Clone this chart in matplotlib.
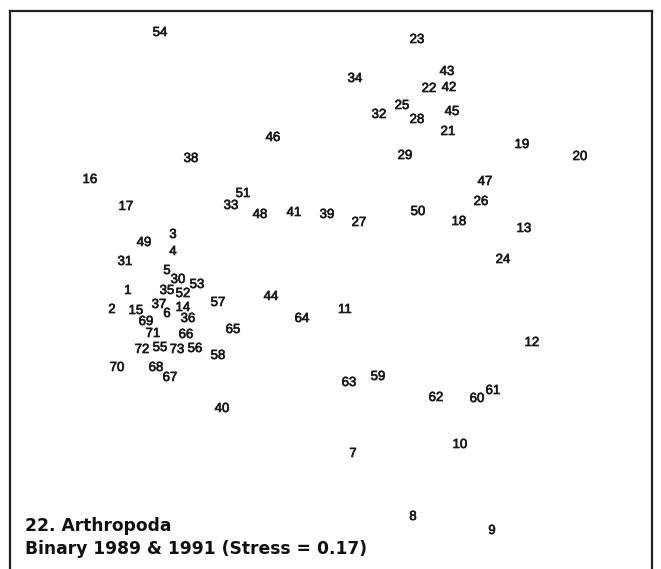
import matplotlib.pyplot as plt
import matplotlib.patheffects as pe

# site labels and their positions on the MDS plane
labels = ['54', '23', '34', '43', '22', '42', '25', '32', '28', '45', '21', '46',
          '19', '20', '29', '38', '16', '47', '26', '51', '33', '48', '41', '39',
          '27', '50', '18', '13', '17', '3', '49', '4', '31', '24', '5', '30',
          '53', '35', '52', '1', '44', '57', '37', '14', '2', '15', '6', '36',
          '11', '64', '69', '71', '66', '65', '12', '72', '55', '73', '56', '58',
          '70', '68', '67', '59', '63', '62', '60', '61', '40', '10', '7', '8', '9']
dim1 = [160, 417, 355, 447, 429, 449, 402, 379, 417, 452, 448, 273,
        522, 580, 405, 191, 90, 485, 481, 243, 231, 260, 294, 327,
        359, 418, 459, 524, 126, 173, 144, 173, 125, 503, 167, 178,
        197, 167, 183, 128, 271, 218, 159, 183, 112, 136, 167, 188,
        345, 302, 146, 153, 186, 233, 532, 142, 160, 177, 195, 218,
        117, 156, 170, 378, 349, 436, 477, 493, 222, 460, 353, 413, 492]
dim2 = [32, 39, 78, 71, 88, 87, 105, 114, 119, 111, 131, 137,
        144, 156, 155, 158, 179, 181, 201, 193, 205, 214, 212, 214,
        222, 211, 221, 228, 206, 234, 242, 251, 261, 259, 270, 279,
        284, 290, 293, 290, 296, 302, 304, 307, 309, 310, 313, 318,
        309, 318, 321, 333, 334, 329, 342, 349, 347, 349, 348, 355,
        367, 367, 377, 376, 382, 397, 398, 390, 408, 444, 453, 516, 530]

title1 = '22. Arthropoda'
title2 = 'Binary 1989 & 1991 (Stress = 0.17)'

W, H = 661, 569
fig = plt.figure(figsize=(W / 100, H / 100), dpi=100)
ax = fig.add_axes([10 / W, -6 / H, 642 / W, 564 / H])
ax.set_xlim(10, 652)
ax.set_ylim(575, 11)
ax.set_xticks([])
ax.set_yticks([])
for s in ax.spines.values():
    s.set_linewidth(1.6)
    s.set_color('#222222')

thick = [pe.withStroke(linewidth=0.5, foreground='#1a1a1a')]
for lab, x, y in zip(labels, dim1, dim2):
    ax.text(x, y + 1, lab, ha='center', va='center', fontsize=9.5,
            family='Liberation Sans', color='#1a1a1a', path_effects=thick)

ax.text(25, 531, title1, ha='left', va='baseline', fontsize=12.3,
        fontweight='bold', family='DejaVu Sans', color='#111111')
ax.text(25, 554, title2, ha='left', va='baseline', fontsize=12.3,
        fontweight='bold', family='DejaVu Sans', color='#111111')

fig.savefig('out.png', dpi=100)
